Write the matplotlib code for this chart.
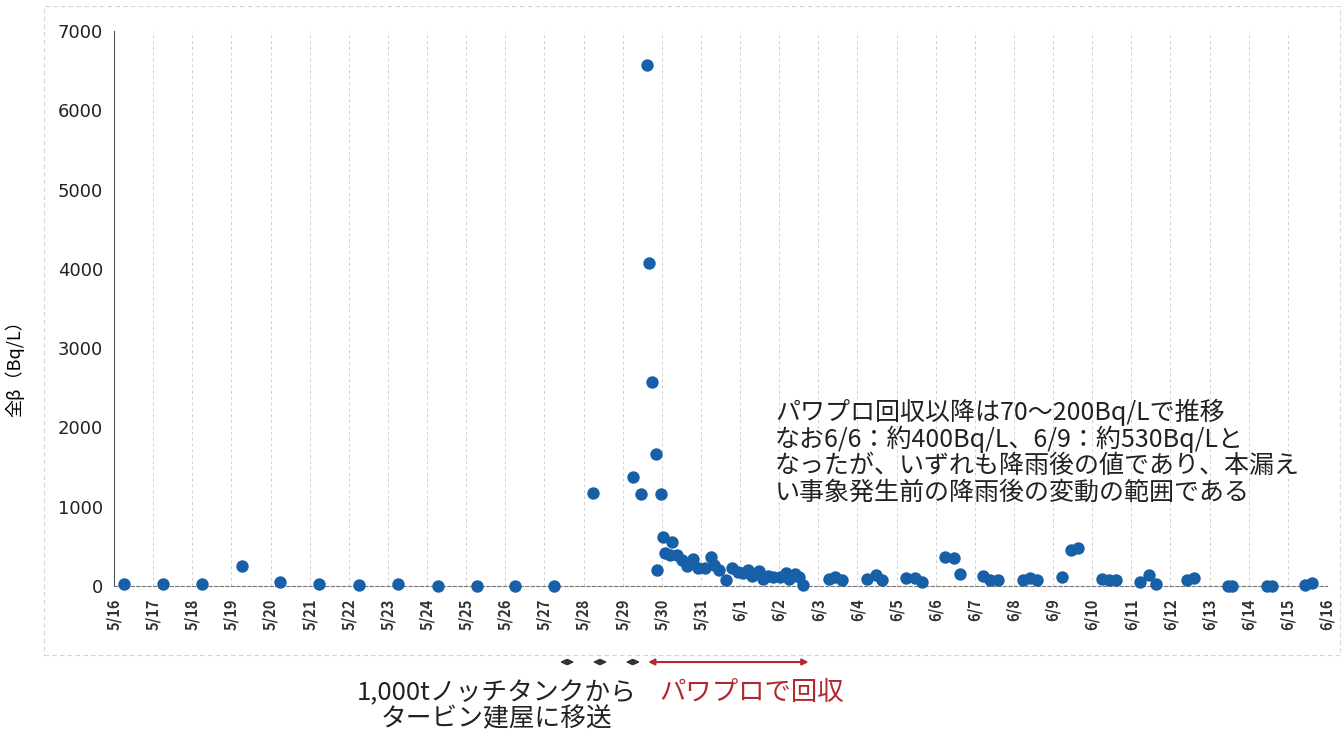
import matplotlib
matplotlib.use("Agg")
import matplotlib.pyplot as plt
from matplotlib.patches import Rectangle

plt.rcParams['font.family'] = ['Noto Sans CJK JP', 'DejaVu Sans']

# 5/16 0:00 からの経過日数と全β濃度 (Bq/L)
days = [0.26, 1.24, 2.24, 3.26, 4.25, 5.25, 6.25, 7.25, 8.27, 9.27, 10.25, 11.24,
        12.25, 13.26, 13.46, 13.63, 13.68, 13.75, 13.85, 13.88, 13.98,
        14.02, 14.08, 14.21, 14.25, 14.38, 14.51, 14.64, 14.79, 14.93, 15.10,
        15.25, 15.33, 15.47, 15.64, 15.79, 15.95, 16.08, 16.21, 16.30, 16.49,
        16.59, 16.72, 16.85, 17.02, 17.17, 17.26, 17.40, 17.51, 17.62,
        18.28, 18.43, 18.60, 19.24, 19.47, 19.64, 20.24, 20.47, 20.64,
        21.24, 21.47, 21.62, 22.22, 22.40, 22.60, 23.24, 23.41, 23.58,
        24.22, 24.47, 24.64, 25.24, 25.44, 25.62, 26.22, 26.46, 26.63,
        27.41, 27.60, 28.48, 28.56, 29.46, 29.59, 30.44, 30.61]
beta = [30, 20, 20, 250, 50, 20, 10, 20, 5, 5, 5, 5,
        1170, 1370, 1165, 6570, 4080, 2570, 1670, 205, 1165,
        620, 410, 395, 560, 390, 330, 250, 335, 225, 225,
        370, 265, 200, 70, 225, 180, 170, 200, 120, 195,
        85, 120, 110, 110, 160, 85, 150, 110, 10,
        90, 110, 70, 90, 140, 70, 100, 100, 45,
        370, 350, 150, 120, 70, 70, 70, 100, 70,
        110, 455, 475, 85, 75, 70, 55, 140, 25,
        70, 100, 5, 5, 5, 5, 15, 35]

date_labels = [f'5/{d}' for d in range(16, 32)] + [f'6/{d}' for d in range(1, 17)]

# 矢印の区間 (経過日数)
transfer_spans = [(11.40, 11.76), (12.24, 12.60), (13.08, 13.44)]
recovery_span = (13.65, 17.75)

note = ('パワプロ回収以降は70～200Bq/Lで推移\n'
        'なお6/6：約400Bq/L、6/9：約530Bq/Lと\n'
        'なったが、いずれも降雨後の値であり、本漏え\n'
        'い事象発生前の降雨後の変動の範囲である')

fig = plt.figure(figsize=(13.41, 7.35), dpi=100)
ax = fig.add_axes([114 / 1341, 1 - 586 / 735, 1213 / 1341, 555 / 735])

ax.scatter(days, beta, s=80, color='#175fa6', zorder=3, clip_on=False, linewidths=0)

ax.set_xlim(0, 31)
ax.set_ylim(0, 7000)
ax.set_yticks(range(0, 7001, 1000))
ax.set_xticks(range(len(date_labels)))
ax.set_xticklabels(date_labels, rotation=90, fontsize=10.5, fontweight='bold', color='#333333')
ax.tick_params(length=0)
ax.tick_params(axis='x', pad=9)
ax.tick_params(axis='y', labelsize=13, pad=8, labelcolor='#222222')
for lbl in ax.get_yticklabels():
    lbl.set_fontfamily('DejaVu Sans')

ax.grid(axis='x', linestyle=(0, (3, 3)), color='#d0d0d0', lw=0.7)
ax.spines['top'].set_visible(False)
ax.spines['right'].set_visible(False)
ax.spines['left'].set_color('#555555')
ax.spines['bottom'].set_color('#777777')
ax.spines['bottom'].set_linestyle((0, (3, 2)))

ax.set_ylabel('全β（Bq/L）', fontsize=13)
ax.yaxis.set_label_coords(-0.074, 0.40)

ax.text(0.545, 0.2414, note, transform=ax.transAxes, fontsize=18, va='center', ha='left',
        linespacing=1.0, color='#222222')

# 下の矢印
arrow_y = -0.137
for a, b in transfer_spans:
    ax.annotate('', xy=(b, arrow_y), xytext=(a, arrow_y), xycoords=ax.get_xaxis_transform(),
                arrowprops=dict(arrowstyle='<|-|>', color='#333333', lw=1.0, mutation_scale=9,
                                shrinkA=0, shrinkB=0),
                annotation_clip=False)
ax.annotate('', xy=(recovery_span[1], arrow_y), xytext=(recovery_span[0], arrow_y),
            xycoords=ax.get_xaxis_transform(),
            arrowprops=dict(arrowstyle='<|-|>', color='#b3282d', lw=1.5, mutation_scale=9,
                            shrinkA=0, shrinkB=0),
            annotation_clip=False)

fig.text(497 / 1341, 1 - 706 / 735, '1,000tノッチタンクから\nタービン建屋に移送',
         ha='center', va='center', fontsize=18.5, linespacing=1.0, color='#222222')
fig.text(752 / 1341, 1 - 693 / 735, 'パワプロで回収', ha='center', va='center',
         fontsize=19, color='#b3282d')

fig.add_artist(Rectangle((44 / 1341, 1 - 655 / 735), 1 - 44 / 1341 - 0.001, 649 / 735,
                         transform=fig.transFigure, fill=False, ec='#d4d4d4', lw=0.8,
                         ls=(0, (4, 3))))

fig.savefig('out.png', dpi=100)
